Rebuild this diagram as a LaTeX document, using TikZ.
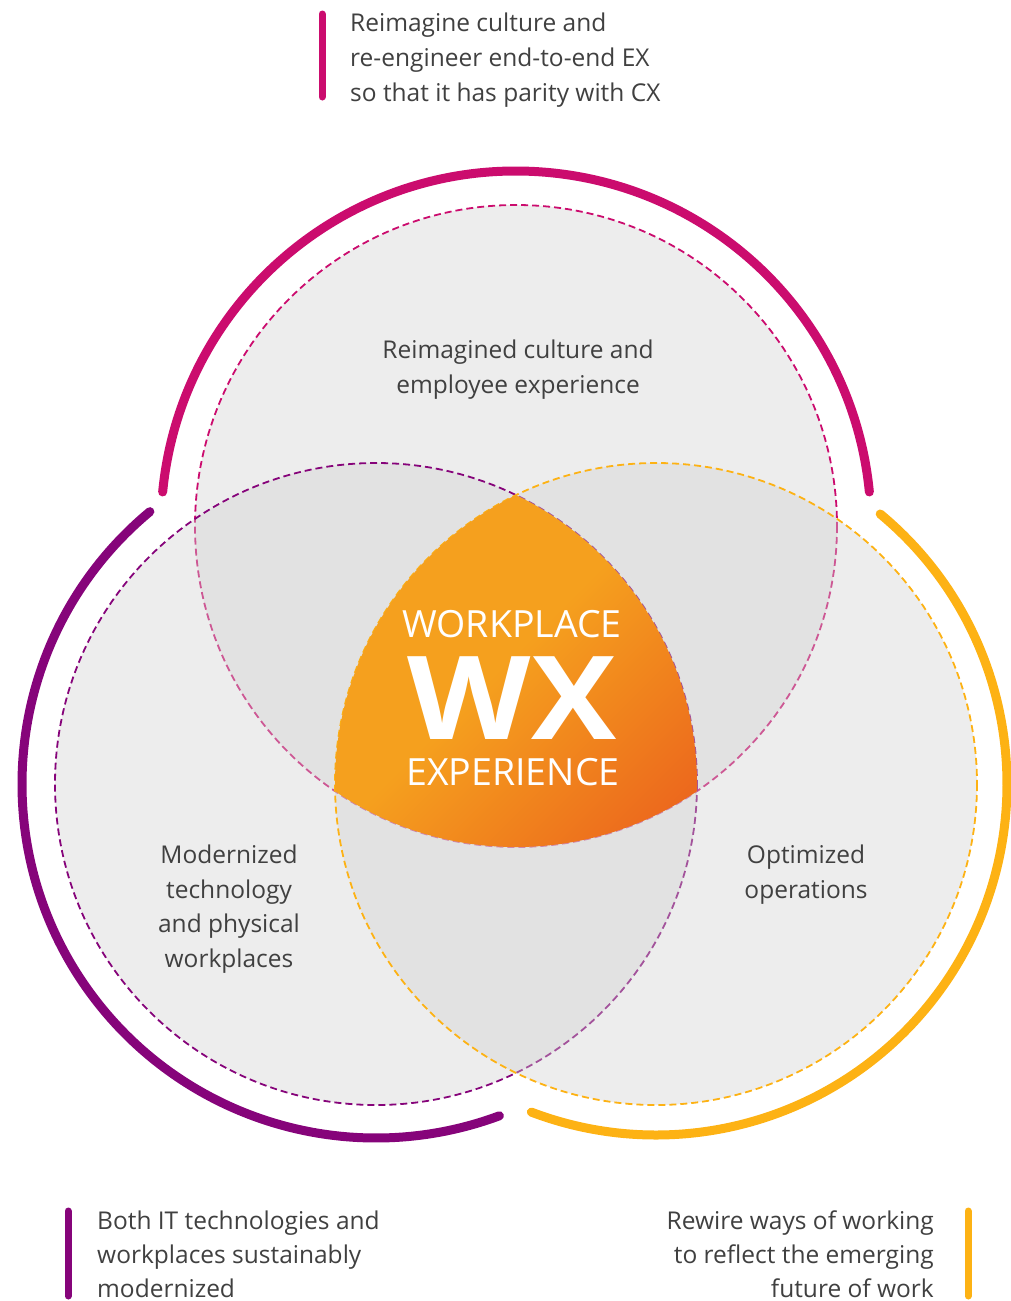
\documentclass[tikz,border=0pt]{standalone}
\usepackage{fontspec}
\setmainfont{Open Sans}
\definecolor{wxpink}{RGB}{203,12,110}
\definecolor{wxpurple}{RGB}{134,4,122}
\definecolor{wxyellow}{RGB}{253,178,20}
\definecolor{wxorange}{RGB}{245,160,30}
\definecolor{wxred}{RGB}{232,78,28}
\definecolor{wxgrayfill}{RGB}{209,209,209}
\definecolor{wxtext}{RGB}{64,64,64}
\pgfdeclarehorizontalshading{wxgrad}{100bp}{color(0bp)=(wxorange); color(48bp)=(wxorange); color(93bp)=(wxred); color(100bp)=(wxred)}
\tikzset{
  zone/.style={draw=#1, line width=1.8pt, dash pattern=on 7pt off 4pt,
               fill=wxgrayfill, fill opacity=0.39},
  band/.style={draw=#1, line width=9pt, line cap=round},
  tag/.style={draw=#1, line width=7pt, line cap=round},
  body/.style={text=wxtext, font=\fontsize{24.5}{35}\selectfont, inner sep=0pt},
  hub/.style={text=white, font=\fontsize{37.5}{40}\selectfont, inner sep=0pt,
              text height=27pt, text depth=0pt},
}
\begin{document}
\begin{tikzpicture}[x=1pt, y=-1pt]
\useasboundingbox (0,0) rectangle (1011,1301);

% the three overlapping zones
\coordinate (ctop) at (516,526);
\coordinate (cleft) at (376,784);
\coordinate (cright) at (656,784);
\draw[zone=wxpink] (ctop) circle[radius=321];
\draw[zone=wxpurple] (cleft) circle[radius=321];
\draw[zone=wxyellow] (cright) circle[radius=321];

% common core of all three zones
\begin{scope}
  \clip (ctop) circle[radius=321];
  \clip (cleft) circle[radius=321];
  \clip (cright) circle[radius=321];
  \shade[shading=wxgrad, shading angle=-45] (330,490) rectangle (702,855);
\end{scope}

% outer bands
\draw[band=wxpink] (ctop) ++(185.5:355) arc[start angle=185.5, end angle=354.5, radius=355];
\draw[band=wxpurple] (cleft) ++(230.3:354) arc[start angle=230.3, end angle=69.6, radius=354];
\draw[band=wxyellow] (cright) ++(-50.3:351) arc[start angle=-50.3, end angle=110.8, radius=351];

% centre title
\node[hub, anchor=base] (hubA) at (512,637) {WORKPLACE};
\node[text=white, inner sep=0pt, anchor=base, text height=84pt, text depth=0pt,
      font=\fontsize{116}{120}\selectfont\bfseries] (hubB) at (512,739) {\scalebox{1.1}[1]{WX}};
\node[hub, anchor=base] (hubC) at (513,785) {EXPERIENCE};

% zone labels
\node[body, anchor=base] (zt1) at (518,358) {Reimagined culture and};
\node[body, anchor=base] (zt2) at (518,393) {employee experience};
\node[body, anchor=base] (zl1) at (229,863) {Modernized};
\node[body, anchor=base] (zl2) at (229,898) {technology};
\node[body, anchor=base] (zl3) at (229,932) {and physical};
\node[body, anchor=base] (zl4) at (229,967) {workplaces};
\node[body, anchor=base] (zr1) at (806,863) {Optimized};
\node[body, anchor=base] (zr2) at (806,898) {operations};

% top note
\coordinate (barTa) at (322,14);
\coordinate (barTb) at (322,97);
\draw[tag=wxpink] (barTa) -- (barTb);
\node[body, anchor=base west] (nt1) at (350,31) {Reimagine culture and};
\node[body, anchor=base west] (nt2) at (350,66) {re-engineer end-to-end EX};
\node[body, anchor=base west] (nt3) at (350,101) {so that it has parity with CX};

% bottom-left note
\coordinate (barLa) at (68,1211);
\coordinate (barLb) at (68,1296);
\draw[tag=wxpurple] (barLa) -- (barLb);
\node[body, anchor=base west] (nl1) at (97,1229) {Both IT technologies and};
\node[body, anchor=base west] (nl2) at (97,1263) {workplaces sustainably};
\node[body, anchor=base west] (nl3) at (97,1297) {modernized};

% bottom-right note
\coordinate (barRa) at (968,1211);
\coordinate (barRb) at (968,1296);
\draw[tag=wxyellow] (barRa) -- (barRb);
\node[body, anchor=base east] (nr1) at (934,1229) {Rewire ways of working};
\node[body, anchor=base east] (nr2) at (934,1263) {to reflect the emerging};
\node[body, anchor=base east] (nr3) at (934,1297) {future of work};
\end{tikzpicture}
\end{document}
